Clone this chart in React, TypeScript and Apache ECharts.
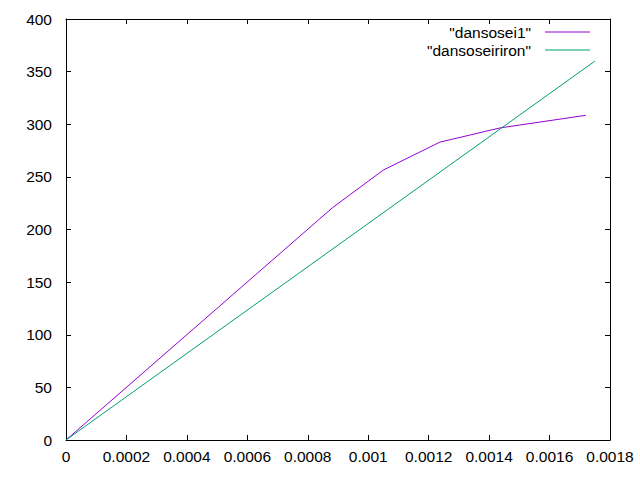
import React, { useEffect, useRef } from "react";
import * as echarts from "echarts";

const xTicks = { min: 0, max: 0.0018, interval: 0.0002 };
const yTicks = { min: 0, max: 400, interval: 50 };

const seriesNames = ['"dansosei1"', '"dansoseiriron"'];
const seriesColors = ["#9400d3", "#009e73"];

const dansosei1Strain = [0, 0.000883, 0.00105, 0.001237, 0.001436, 0.00172];
const dansosei1Stress = [0, 221, 256.5, 283, 296.5, 308.5];

const dansoseirironStrain = [0, 0.00175];
const dansoseirironStress = [0, 360];

const fmtX = (v: number) => String(+Number(v).toFixed(4));

export default function App() {
  const ref = useRef<HTMLDivElement>(null);
  useEffect(() => {
    if (!ref.current) return;
    const chart = echarts.init(ref.current, null, { renderer: "svg" });
    const font = "Liberation Sans, Arial, sans-serif";
    const fs = 15.5;
    const axisCommon = {
      axisLine: { show: true, onZero: false, lineStyle: { color: "#000", width: 1 } },
      axisTick: { show: true, inside: true, length: 5, lineStyle: { color: "#000" } },
      splitLine: { show: false },
    };
    const legendRightText = 531;
    const legendLineX1 = 545;
    const legendLineX2 = 590;
    const legendY = [32, 50];
    chart.setOption({
      animation: false,
      backgroundColor: "#fff",
      grid: { left: 66, right: 30, top: 19, bottom: 40, containLabel: false },
      xAxis: [
        {
          type: "value",
          ...xTicks,
          position: "bottom",
          ...axisCommon,
          axisLabel: {
            color: "#000",
            fontSize: fs,
            fontFamily: font,
            margin: 8,
            formatter: fmtX,
          },
        },
        {
          type: "value",
          ...xTicks,
          position: "top",
          ...axisCommon,
          axisLabel: { show: false },
        },
      ],
      yAxis: [
        {
          type: "value",
          ...yTicks,
          position: "left",
          ...axisCommon,
          axisLabel: { color: "#000", fontSize: fs, fontFamily: font, margin: 14 },
        },
        {
          type: "value",
          ...yTicks,
          position: "right",
          ...axisCommon,
          axisLabel: { show: false },
        },
      ],
      series: [
        {
          name: seriesNames[0],
          type: "line",
          data: dansosei1Strain.map((x, i) => [x, dansosei1Stress[i]]),
          showSymbol: false,
          symbol: "none",
          lineStyle: { color: seriesColors[0], width: 1 },
          itemStyle: { color: seriesColors[0] },
          xAxisIndex: 0,
          yAxisIndex: 0,
        },
        {
          name: seriesNames[1],
          type: "line",
          data: dansoseirironStrain.map((x, i) => [x, dansoseirironStress[i]]),
          showSymbol: false,
          symbol: "none",
          lineStyle: { color: seriesColors[1], width: 1 },
          itemStyle: { color: seriesColors[1] },
          xAxisIndex: 0,
          yAxisIndex: 0,
        },
      ],
      graphic: seriesNames.flatMap((name, i) => [
        {
          type: "text",
          x: legendRightText,
          y: legendY[i],
          style: {
            text: name,
            textAlign: "right",
            textVerticalAlign: "middle",
            fill: "#000",
            fontSize: fs,
            fontFamily: font,
          },
        },
        {
          type: "line",
          shape: { x1: legendLineX1, y1: legendY[i], x2: legendLineX2, y2: legendY[i] },
          style: { stroke: seriesColors[i], lineWidth: 1 },
        },
      ]),
    });
    return () => chart.dispose();
  }, []);
  return (
    <div
      ref={ref}
      style={{ position: "fixed", left: 0, top: 0, width: 640, height: 480 }}
    />
  );
}
